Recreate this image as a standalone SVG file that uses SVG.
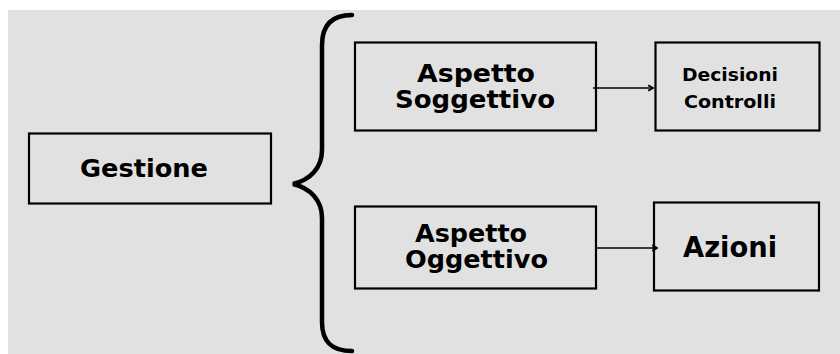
<svg xmlns="http://www.w3.org/2000/svg" width="840" height="354" viewBox="0 0 840 354">
  <style>
    .box { fill: none; stroke: #000; stroke-width: 2.2; }
    .lbl { font-family: "DejaVu Sans", "Open Sans", sans-serif; font-weight: 700; fill: #000; text-anchor: middle; }
    .link { fill: none; stroke: #000; stroke-width: 1.6; }
  </style>
  <defs>
    <marker id="head" viewBox="0 0 10 10" refX="9" refY="5" markerWidth="8" markerHeight="8" orient="auto" markerUnits="userSpaceOnUse">
      <path d="M3,1.5 L9,5 L3,8.5" fill="none" stroke="#000" stroke-width="2.2"/>
    </marker>
  </defs>
  <rect x="0" y="0" width="840" height="354" fill="#ffffff"/>
  <rect x="8" y="10" width="832" height="344" fill="#e1e1e1"/>

  <g id="gestione">
    <rect class="box" x="29" y="133.5" width="242" height="70"/>
    <text class="lbl" x="144" y="177" font-size="25" textLength="128" lengthAdjust="spacingAndGlyphs">Gestione</text>
  </g>

  <g id="brace">
    <path d="M352,15 C333,15 322,24 322,45 L322,150 C322,168 310,180 293,184 C310,188 322,200 322,218 L322,322 C322,343 333,351 352,351" fill="none" stroke="#000" stroke-width="4.5" stroke-linecap="round"/>
  </g>

  <g id="aspetto-soggettivo">
    <rect class="box" x="355" y="42.5" width="241" height="88"/>
    <text class="lbl" x="476" y="82" font-size="24" textLength="118" lengthAdjust="spacingAndGlyphs">Aspetto</text>
    <text class="lbl" x="475" y="108" font-size="24" textLength="160" lengthAdjust="spacingAndGlyphs">Soggettivo</text>
  </g>

  <g id="decisioni-controlli">
    <rect class="box" x="655.5" y="42.5" width="164" height="88"/>
    <text class="lbl" x="730" y="81" font-size="18" textLength="96" lengthAdjust="spacingAndGlyphs">Decisioni</text>
    <text class="lbl" x="730" y="108" font-size="18" textLength="92" lengthAdjust="spacingAndGlyphs">Controlli</text>
  </g>

  <g id="aspetto-oggettivo">
    <rect class="box" x="355" y="206.5" width="241" height="82"/>
    <text class="lbl" x="471" y="242" font-size="24" textLength="112" lengthAdjust="spacingAndGlyphs">Aspetto</text>
    <text class="lbl" x="476.5" y="268" font-size="24" textLength="143" lengthAdjust="spacingAndGlyphs">Oggettivo</text>
  </g>

  <g id="azioni">
    <rect class="box" x="654" y="202.5" width="165" height="88"/>
    <text class="lbl" x="730" y="257" font-size="29" textLength="94" lengthAdjust="spacingAndGlyphs">Azioni</text>
  </g>

  <g id="connectors">
    <line class="link" x1="593" y1="88" x2="653" y2="88" marker-end="url(#head)"/>
    <line class="link" x1="596" y1="248" x2="657" y2="248" marker-end="url(#head)"/>
  </g>
</svg>
